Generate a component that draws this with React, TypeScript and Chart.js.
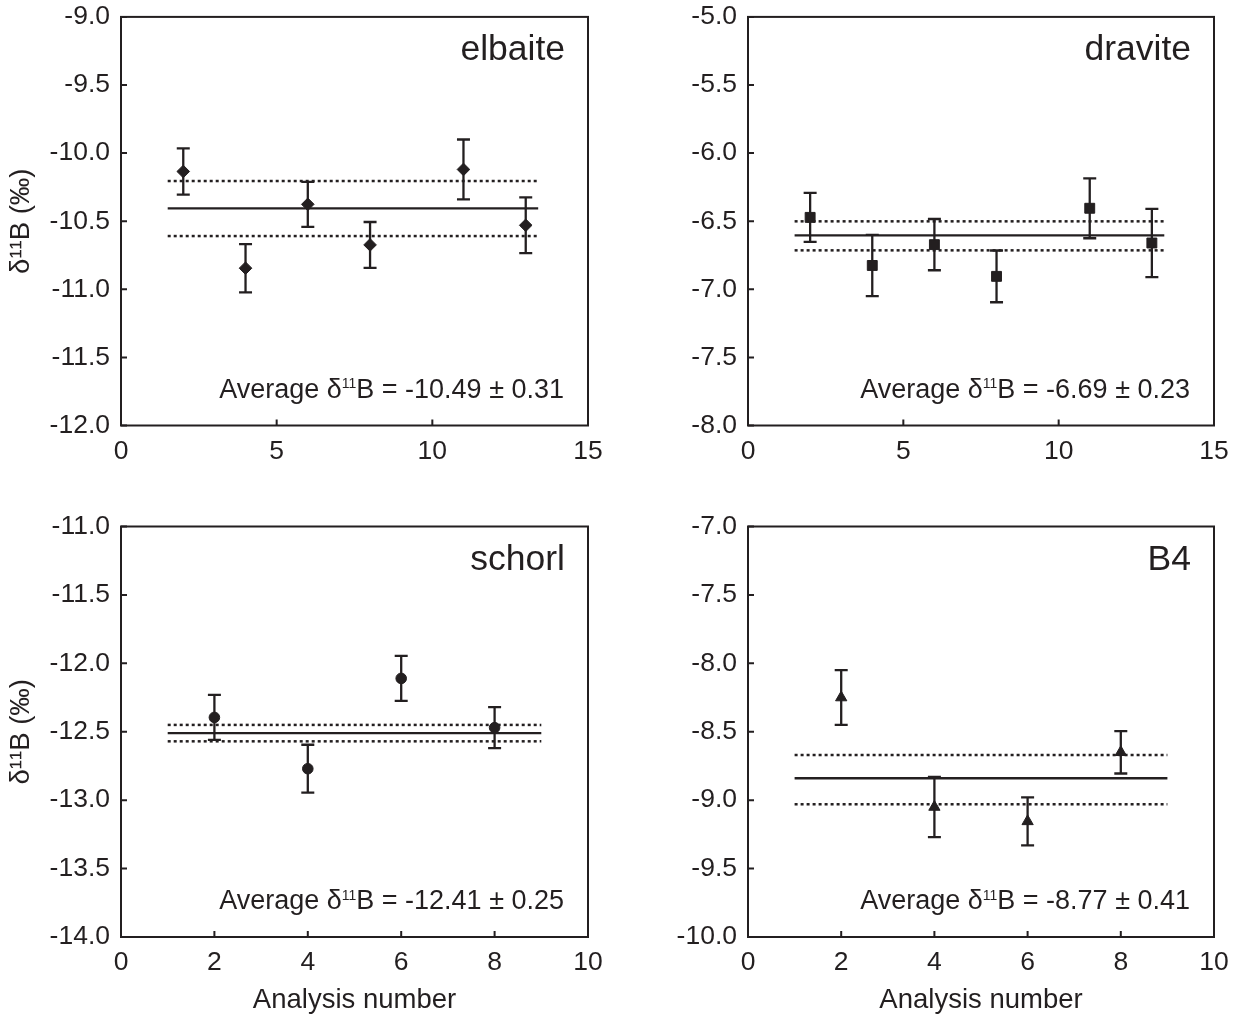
import React, { useEffect, useRef } from "react";
import { Chart, registerables } from "chart.js";

Chart.register(...registerables);

const FONT = "'Liberation Sans', Arial, Helvetica, sans-serif";
const INK = "#231f20";

// ---------- elbaite ----------
const elbaiteX = [2, 4, 6, 8, 11, 13];
const elbaiteY = [-10.135, -10.845, -10.376, -10.674, -10.12, -10.53];
const elbaiteErr = [0.17, 0.177, 0.165, 0.168, 0.22, 0.205];
const elbaiteLevels = [-10.205, -10.406, -10.609]; // upper, mean, lower
const elbaiteSpan = [1.5, 13.4];

// ---------- dravite ----------
const draviteX = [2, 4, 6, 8, 11, 13];
const draviteY = [-6.472, -6.825, -6.672, -6.905, -6.405, -6.66];
const draviteErr = [0.18, 0.225, 0.188, 0.19, 0.22, 0.25];
const draviteLevels = [-6.501, -6.604, -6.714];
const draviteSpan = [1.5, 13.4];

// ---------- schorl ----------
const schorlX = [2, 4, 6, 8];
const schorlY = [-12.395, -12.77, -12.11, -12.47];
const schorlErr = [0.165, 0.175, 0.165, 0.15];
const schorlLevels = [-12.45, -12.51, -12.57];
const schorlSpan = [1, 9];

// ---------- B4 ----------
const b4X = [2, 4, 6, 8];
const b4Y = [-8.25, -9.05, -9.155, -8.65];
const b4Err = [0.2, 0.22, 0.175, 0.155];
const b4Levels = [-8.67, -8.84, -9.03];
const b4Span = [1, 9];

// ---------- labels ----------
const panelNames = ["elbaite", "dravite", "schorl", "B4"];
const averageValues = ["-10.49", "-6.69", "-12.41", "-8.77"];
const averageSd = ["0.31", "0.23", "0.25", "0.41"];
const yAxisTitle = "δ¹¹B (‰)";
const xAxisTitle = "Analysis number";

type PanelProps = {
  left: number;
  top: number;
  width: number;
  height: number;
  padTop: number;
  padRight: number;
  yAxisWidth: number;
  xAxisHeight: number;
  showYTitle: boolean;
  showXTitle: boolean;
  xMin: number;
  xMax: number;
  xStep: number;
  yMin: number;
  yMax: number;
  xs: number[];
  ys: number[];
  errs: number[];
  levels: number[];
  span: number[];
  pointStyle: string;
  pointRadius: number;
  name: string;
  avg: string;
  sd: string;
};

function Panel(p: PanelProps) {
  const ref = useRef<HTMLCanvasElement | null>(null);

  useEffect(() => {
    if (!ref.current) return;

    const points = p.xs.map((x, i) => ({ x, y: p.ys[i] }));
    const bars: { x: number; y: number | null }[] = [];
    p.xs.forEach((x, i) => {
      bars.push({ x, y: p.ys[i] - p.errs[i] });
      bars.push({ x, y: p.ys[i] + p.errs[i] });
      bars.push({ x, y: null });
    });
    const levelLine = (y: number) => [
      { x: p.span[0], y },
      { x: p.span[1], y },
    ];

    const decor = {
      id: "decor",
      afterDraw(chart: any) {
        const { ctx, chartArea: a } = chart;
        ctx.save();
        // frame
        ctx.strokeStyle = INK;
        ctx.lineWidth = 2;
        ctx.strokeRect(a.left, a.top, a.right - a.left, a.bottom - a.top);
        // inward ticks
        const xs = chart.scales.x;
        const ys = chart.scales.y;
        ctx.beginPath();
        xs.ticks.forEach((t: any) => {
          const px = xs.getPixelForValue(t.value);
          ctx.moveTo(px, a.bottom);
          ctx.lineTo(px, a.bottom - 6);
        });
        ys.ticks.forEach((t: any) => {
          const py = ys.getPixelForValue(t.value);
          ctx.moveTo(a.left, py);
          ctx.lineTo(a.left + 6, py);
        });
        ctx.stroke();
        // panel name
        ctx.fillStyle = INK;
        ctx.textAlign = "right";
        ctx.textBaseline = "alphabetic";
        ctx.font = `35.5px ${FONT}`;
        ctx.fillText(p.name, a.right - 23, a.top + 43);
        // average annotation
        const big = `27px ${FONT}`;
        const small = `14px ${FONT}`;
        const t1 = "Average δ";
        const t2 = "11";
        const t3 = `B = ${p.avg} ± ${p.sd}`;
        ctx.font = big;
        const w1 = ctx.measureText(t1).width;
        const w3 = ctx.measureText(t3).width;
        ctx.font = small;
        const w2 = ctx.measureText(t2).width;
        let x = a.right - 24 - (w1 + w2 + w3);
        const y = a.bottom - 28;
        ctx.textAlign = "left";
        ctx.font = big;
        ctx.fillText(t1, x, y);
        x += w1;
        ctx.font = small;
        ctx.fillText(t2, x, y - 9.5);
        x += w2;
        ctx.font = big;
        ctx.fillText(t3, x, y);
        ctx.restore();
      },
    };

    const chart = new Chart(ref.current, {
      type: "scatter",
      data: {
        datasets: [
          {
            data: points,
            pointStyle: p.pointStyle as any,
            pointRadius: p.pointRadius,
            pointBackgroundColor: INK,
            pointBorderColor: INK,
            pointBorderWidth: 1,
            showLine: false,
          },
          {
            data: bars as any,
            showLine: true,
            spanGaps: false,
            borderColor: INK,
            borderWidth: 2.3,
            pointStyle: "line",
            pointRadius: 6.5,
            pointBorderColor: INK,
            pointBorderWidth: 2.3,
          },
          {
            data: levelLine(p.levels[0]),
            showLine: true,
            borderColor: INK,
            borderWidth: 2.5,
            borderDash: [3, 3],
            pointRadius: 0,
          },
          {
            data: levelLine(p.levels[1]),
            showLine: true,
            borderColor: INK,
            borderWidth: 2.4,
            pointRadius: 0,
          },
          {
            data: levelLine(p.levels[2]),
            showLine: true,
            borderColor: INK,
            borderWidth: 2.5,
            borderDash: [3, 3],
            pointRadius: 0,
          },
        ],
      },
      options: {
        animation: false,
        responsive: false,
        devicePixelRatio: 1,
        events: [],
        layout: {
          padding: { top: p.padTop, right: p.padRight, left: 0, bottom: 0 },
        },
        plugins: {
          legend: { display: false },
          tooltip: { enabled: false },
        },
        scales: {
          x: {
            type: "linear",
            min: p.xMin,
            max: p.xMax,
            ticks: {
              stepSize: p.xStep,
              color: INK,
              font: { family: FONT, size: 26.5 },
              padding: 10,
              maxRotation: 0,
            },
            grid: { display: false, drawTicks: false },
            border: { display: false },
            title: {
              display: p.showXTitle,
              text: xAxisTitle,
              color: INK,
              font: { family: FONT, size: 27.5 },
              padding: { top: 0, bottom: -1 },
            },
            afterFit(scale: any) {
              scale.height = p.xAxisHeight;
            },
          },
          y: {
            type: "linear",
            min: p.yMin,
            max: p.yMax,
            ticks: {
              stepSize: 0.5,
              color: INK,
              font: { family: FONT, size: 26.5 },
              padding: 11,
              callback: (v: any) => Number(v).toFixed(1),
            },
            grid: { display: false, drawTicks: false },
            border: { display: false },
            title: {
              display: p.showYTitle,
              text: yAxisTitle,
              color: INK,
              font: { family: FONT, size: 27.5 },
              padding: { top: 5, bottom: 0 },
            },
            afterFit(scale: any) {
              scale.width = p.yAxisWidth;
            },
          },
        },
      },
      plugins: [decor],
    });

    return () => chart.destroy();
  }, []);

  return (
    <canvas
      ref={ref}
      width={p.width}
      height={p.height}
      style={{
        position: "absolute",
        left: p.left,
        top: p.top,
        width: p.width,
        height: p.height,
      }}
    />
  );
}

export default function App() {
  return (
    <div
      style={{
        position: "fixed",
        left: 0,
        top: 0,
        width: 1239,
        height: 1016,
        background: "#ffffff",
        overflow: "hidden",
      }}
    >
      <Panel
        left={0}
        top={-10}
        width={620}
        height={510}
        padTop={26.7}
        padRight={32}
        yAxisWidth={121}
        xAxisHeight={74.5}
        showYTitle={true}
        showXTitle={false}
        xMin={0}
        xMax={15}
        xStep={5}
        yMin={-12}
        yMax={-9}
        xs={elbaiteX}
        ys={elbaiteY}
        errs={elbaiteErr}
        levels={elbaiteLevels}
        span={elbaiteSpan}
        pointStyle="rectRot"
        pointRadius={6.3}
        name={panelNames[0]}
        avg={averageValues[0]}
        sd={averageSd[0]}
      />
      <Panel
        left={620}
        top={-10}
        width={629}
        height={510}
        padTop={26.7}
        padRight={35}
        yAxisWidth={128}
        xAxisHeight={74.5}
        showYTitle={false}
        showXTitle={false}
        xMin={0}
        xMax={15}
        xStep={5}
        yMin={-8}
        yMax={-5}
        xs={draviteX}
        ys={draviteY}
        errs={draviteErr}
        levels={draviteLevels}
        span={draviteSpan}
        pointStyle="rect"
        pointRadius={7}
        name={panelNames[1]}
        avg={averageValues[1]}
        sd={averageSd[1]}
      />
      <Panel
        left={0}
        top={490}
        width={620}
        height={526}
        padTop={36.5}
        padRight={32}
        yAxisWidth={121}
        xAxisHeight={79}
        showYTitle={true}
        showXTitle={true}
        xMin={0}
        xMax={10}
        xStep={2}
        yMin={-14}
        yMax={-11}
        xs={schorlX}
        ys={schorlY}
        errs={schorlErr}
        levels={schorlLevels}
        span={schorlSpan}
        pointStyle="circle"
        pointRadius={5.3}
        name={panelNames[2]}
        avg={averageValues[2]}
        sd={averageSd[2]}
      />
      <Panel
        left={620}
        top={490}
        width={629}
        height={526}
        padTop={36.5}
        padRight={35}
        yAxisWidth={128}
        xAxisHeight={79}
        showYTitle={false}
        showXTitle={true}
        xMin={0}
        xMax={10}
        xStep={2}
        yMin={-10}
        yMax={-7}
        xs={b4X}
        ys={b4Y}
        errs={b4Err}
        levels={b4Levels}
        span={b4Span}
        pointStyle="triangle"
        pointRadius={6.5}
        name={panelNames[3]}
        avg={averageValues[3]}
        sd={averageSd[3]}
      />
    </div>
  );
}
